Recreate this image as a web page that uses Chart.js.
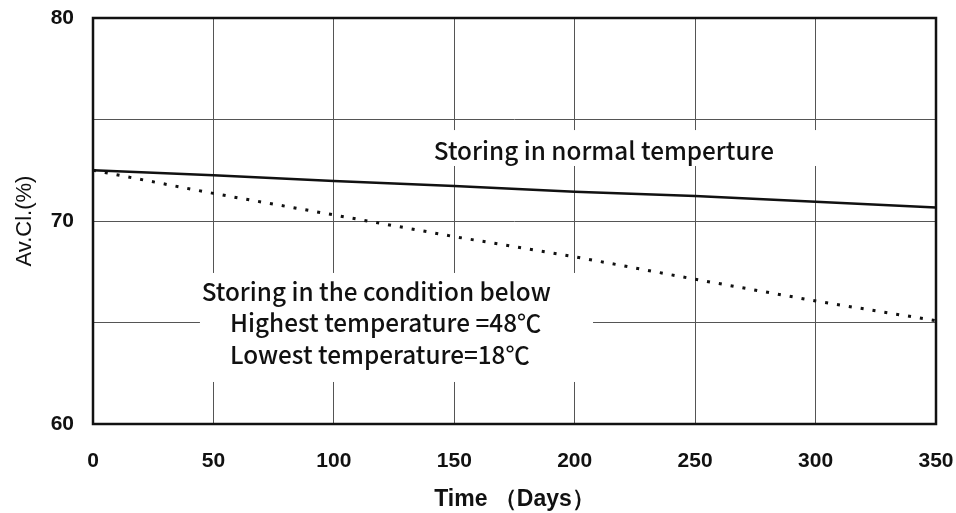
<!DOCTYPE html>
<html>
<head>
<meta charset="utf-8">
<script src="https://cdn.jsdelivr.net/npm/chart.js@4/dist/chart.umd.min.js"></script>
<style>
  html, body { margin: 0; padding: 0; background: #fff; }
  #wrap { width: 956px; height: 513px; }
</style>
</head>
<body>
<div id="wrap"><canvas id="chart" width="956" height="513"></canvas></div>
<script>
// Data
const days = [0, 50, 100, 150, 200, 250, 300, 350];
const normalStore = [72.5, 72.25, 71.97, 71.72, 71.44, 71.23, 70.95, 70.66];
const hotStore = [72.5, 71.36, 70.3, 69.23, 68.24, 67.13, 66.06, 65.09];
const yLabels = [60, 70, 80];

// Annotation texts (position in data units)
const notes = [
    { text: 'Storing in normal temperture', x: 141.5, y: 73.45 },
    { text: 'Storing in the condition below', x: 45.1, y: 66.52 },
    { text: 'Highest temperature =48\u2103', x: 56.9, y: 64.98 },
    { text: 'Lowest temperature=18\u2103', x: 56.9, y: 63.4 }
];
// white boxes behind the notes (data units: x1, x2, y1, y2)
const noteBoxes = [
    [137.9, 306, 74.48, 72.71],
    [44.4, 207.6, 67.44, 62.07]
];

const tickFont = { family: '"Liberation Sans", Arial, sans-serif', size: 21, weight: 'bold' };
const noteFont = '500 24.3px "Noto Sans CJK JP", "Noto Sans", sans-serif';

// Draws the frame, note masks and notes
const decorPlugin = {
    id: 'decor',
    beforeDatasetsDraw(chart) {
        const ctx = chart.ctx;
        const xs = chart.scales.x, ys = chart.scales.y;
        ctx.save();
        ctx.fillStyle = '#fff';
        noteBoxes.forEach(b => {
            const x1 = xs.getPixelForValue(b[0]), x2 = xs.getPixelForValue(b[1]);
            const y1 = ys.getPixelForValue(b[2]), y2 = ys.getPixelForValue(b[3]);
            ctx.fillRect(x1, y1, x2 - x1, y2 - y1);
        });
        ctx.restore();
    },
    afterDatasetsDraw(chart) {
        const ctx = chart.ctx;
        const a = chart.chartArea;
        const xs = chart.scales.x, ys = chart.scales.y;
        ctx.save();
        ctx.strokeStyle = '#111';
        ctx.lineWidth = 2.5;
        ctx.strokeRect(a.left, a.top, a.right - a.left, a.bottom - a.top);

        ctx.fillStyle = '#111';
        ctx.font = noteFont;
        ctx.textAlign = 'left';
        ctx.textBaseline = 'middle';
        notes.forEach(n => {
            ctx.fillText(n.text, xs.getPixelForValue(n.x), ys.getPixelForValue(n.y));
        });
        ctx.restore();
    }
};

const ctx = document.getElementById('chart').getContext('2d');
new Chart(ctx, {
    type: 'line',
    data: {
        datasets: [{
            label: 'normal',
            data: days.map((d, i) => ({ x: d, y: normalStore[i] })),
            borderColor: '#111',
            borderWidth: 2.5,
            pointRadius: 0,
            tension: 0
        }, {
            label: 'condition',
            data: days.map((d, i) => ({ x: d, y: hotStore[i] })),
            borderColor: '#111',
            borderWidth: 3,
            borderDash: [3, 9],
            pointRadius: 0,
            tension: 0
        }]
    },
    options: {
        responsive: false,
        animation: false,
        layout: { padding: { top: 18, right: 20, left: 0, bottom: 0 } },
        plugins: {
            legend: { display: false },
            tooltip: { enabled: false }
        },
        scales: {
            x: {
                type: 'linear',
                min: 0,
                max: 350,
                afterFit(scale) {
                    scale.height = 89;
                    scale.paddingLeft = 0;
                    scale.paddingRight = 0;
                },
                ticks: {
                    stepSize: 50,
                    color: '#111',
                    font: tickFont,
                    padding: 25,
                    maxRotation: 0
                },
                grid: { color: '#555', lineWidth: 1, drawTicks: false },
                border: { display: false },
                title: {
                    display: true,
                    text: 'Time \uFF08Days\uFF09',
                    color: '#111',
                    font: { family: '"Liberation Sans", Arial, sans-serif', size: 23, weight: 'bold' },
                    padding: { top: -1, bottom: 0 }
                }
            },
            y: {
                min: 60,
                max: 80,
                afterFit(scale) {
                    scale.width = 93;
                    scale.paddingTop = 0;
                    scale.paddingBottom = 0;
                },
                ticks: {
                    stepSize: 5,
                    color: '#111',
                    font: tickFont,
                    padding: 19,
                    callback: v => yLabels.includes(v) ? String(v) : ''
                },
                grid: { color: '#555', lineWidth: 1, drawTicks: false },
                border: { display: false },
                title: {
                    display: true,
                    text: 'Av.Cl.(%)',
                    color: '#111',
                    font: { family: '"Liberation Sans", Arial, sans-serif', size: 22 },
                    padding: { top: 12, bottom: 0 }
                }
            }
        }
    },
    plugins: [decorPlugin]
});
</script>
</body>
</html>
